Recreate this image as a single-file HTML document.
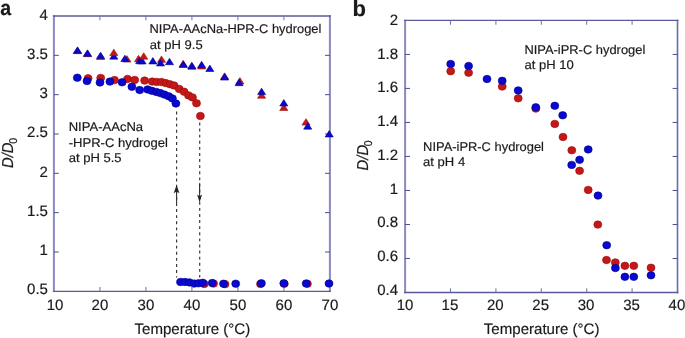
<!DOCTYPE html>
<html><head><meta charset="utf-8"><style>
html,body{margin:0;padding:0;background:#fff;}
svg{display:block;filter:blur(0.3px);font-family:"Liberation Sans",sans-serif;text-rendering:geometricPrecision;}
text{stroke:#1a1a1a;stroke-width:0.18px;}
</style></head><body>
<svg width="685" height="338" viewBox="0 0 685 338">
<rect width="685" height="338" fill="#fff"/>
<path d="M53.90 15.30V292.00" fill="none" stroke="#8a8abf" stroke-width="2.0"/>
<path d="M329.90 15.30V292.00" fill="none" stroke="#8a8abf" stroke-width="2.0"/>
<path d="M52.90 16.00H330.90M52.90 291.30H330.90" fill="none" stroke="#5a5a9a" stroke-width="1.35"/>
<path d="M99.90 291.30v-4.3M99.90 16.00v4.3M145.90 291.30v-4.3M145.90 16.00v4.3M191.90 291.30v-4.3M191.90 16.00v4.3M237.90 291.30v-4.3M237.90 16.00v4.3M283.90 291.30v-4.3M283.90 16.00v4.3" stroke="#7a7aaa" stroke-width="1.1" fill="none"/>
<path d="M53.90 251.97h4.9M329.90 251.97h-4.9M53.90 212.64h4.9M329.90 212.64h-4.9M53.90 173.31h4.9M329.90 173.31h-4.9M53.90 133.99h4.9M329.90 133.99h-4.9M53.90 94.66h4.9M329.90 94.66h-4.9M53.90 55.33h4.9M329.90 55.33h-4.9" stroke="#4c4c8e" stroke-width="1.0" fill="none"/>
<path d="M405.10 19.70V293.20" fill="none" stroke="#8a8abf" stroke-width="2.0"/>
<path d="M677.50 19.70V293.20" fill="none" stroke="#6c6cac" stroke-width="1.6"/>
<path d="M404.10 20.40H678.50M404.10 292.50H678.50" fill="none" stroke="#5a5a9a" stroke-width="1.35"/>
<path d="M450.50 292.50v-4.3M450.50 20.40v4.3M495.90 292.50v-4.3M495.90 20.40v4.3M541.30 292.50v-4.3M541.30 20.40v4.3M586.70 292.50v-4.3M586.70 20.40v4.3M632.10 292.50v-4.3M632.10 20.40v4.3" stroke="#7a7aaa" stroke-width="1.1" fill="none"/>
<path d="M405.10 258.49h4.9M677.50 258.49h-4.9M405.10 224.47h4.9M677.50 224.47h-4.9M405.10 190.46h4.9M677.50 190.46h-4.9M405.10 156.45h4.9M677.50 156.45h-4.9M405.10 122.44h4.9M677.50 122.44h-4.9M405.10 88.42h4.9M677.50 88.42h-4.9M405.10 54.41h4.9M677.50 54.41h-4.9" stroke="#4c4c8e" stroke-width="1.0" fill="none"/>
<path d="M176.6 111.5V277.5M199.7 122.5V277.5" stroke="#3a3a3a" stroke-width="1.2" stroke-dasharray="2.9 3.2" fill="none"/>
<path d="M176.6 192V203M199.6 183.2V196" stroke="#2a2a2a" stroke-width="1.05" fill="none"/>
<path d="M176.6 185L179.5 193.2L176.6 191.6L173.6 193.2Z" fill="#222"/>
<path d="M199.6 202.6L202.1 194.6L199.6 196.2L197.1 194.6Z" fill="#222"/>
<path d="M77.50 47.25L81.55 53.65H73.45Z" fill="#c41818" stroke="#9c0c0c" stroke-width="0.6" stroke-linejoin="round"/>
<path d="M87.50 50.25L91.55 56.65H83.45Z" fill="#c41818" stroke="#9c0c0c" stroke-width="0.6" stroke-linejoin="round"/>
<path d="M100.60 53.15L104.65 59.55H96.55Z" fill="#c41818" stroke="#9c0c0c" stroke-width="0.6" stroke-linejoin="round"/>
<path d="M127.00 55.65L131.05 62.05H122.95Z" fill="#c41818" stroke="#9c0c0c" stroke-width="0.6" stroke-linejoin="round"/>
<path d="M138.50 55.35L142.55 61.75H134.45Z" fill="#c41818" stroke="#9c0c0c" stroke-width="0.6" stroke-linejoin="round"/>
<path d="M161.50 55.95L165.55 62.35H157.45Z" fill="#c41818" stroke="#9c0c0c" stroke-width="0.6" stroke-linejoin="round"/>
<path d="M183.20 60.35L187.25 66.75H179.15Z" fill="#c41818" stroke="#9c0c0c" stroke-width="0.6" stroke-linejoin="round"/>
<path d="M192.00 62.95L196.05 69.35H187.95Z" fill="#c41818" stroke="#9c0c0c" stroke-width="0.6" stroke-linejoin="round"/>
<path d="M201.60 62.55L205.65 68.95H197.55Z" fill="#c41818" stroke="#9c0c0c" stroke-width="0.6" stroke-linejoin="round"/>
<path d="M224.60 72.85L228.65 79.25H220.55Z" fill="#c41818" stroke="#9c0c0c" stroke-width="0.6" stroke-linejoin="round"/>
<path d="M239.90 77.55L243.95 83.95H235.85Z" fill="#c41818" stroke="#9c0c0c" stroke-width="0.6" stroke-linejoin="round"/>
<path d="M261.60 91.85L265.65 98.25H257.55Z" fill="#c41818" stroke="#9c0c0c" stroke-width="0.6" stroke-linejoin="round"/>
<path d="M283.80 104.05L287.85 110.45H279.75Z" fill="#c41818" stroke="#9c0c0c" stroke-width="0.6" stroke-linejoin="round"/>
<path d="M306.00 118.65L310.05 125.05H301.95Z" fill="#c41818" stroke="#9c0c0c" stroke-width="0.6" stroke-linejoin="round"/>
<path d="M77.50 46.85L81.55 53.25H73.45Z" fill="#0808d0" stroke="#000090" stroke-width="0.6" stroke-linejoin="round"/>
<path d="M87.50 49.85L91.55 56.25H83.45Z" fill="#0808d0" stroke="#000090" stroke-width="0.6" stroke-linejoin="round"/>
<path d="M100.60 52.15L104.65 58.55H96.55Z" fill="#0808d0" stroke="#000090" stroke-width="0.6" stroke-linejoin="round"/>
<path d="M113.80 52.75L117.85 59.15H109.75Z" fill="#0808d0" stroke="#000090" stroke-width="0.6" stroke-linejoin="round"/>
<path d="M124.90 55.15L128.95 61.55H120.85Z" fill="#0808d0" stroke="#000090" stroke-width="0.6" stroke-linejoin="round"/>
<path d="M139.70 57.35L143.75 63.75H135.65Z" fill="#0808d0" stroke="#000090" stroke-width="0.6" stroke-linejoin="round"/>
<path d="M142.10 57.55L146.15 63.95H138.05Z" fill="#0808d0" stroke="#000090" stroke-width="0.6" stroke-linejoin="round"/>
<path d="M152.90 57.55L156.95 63.95H148.85Z" fill="#0808d0" stroke="#000090" stroke-width="0.6" stroke-linejoin="round"/>
<path d="M160.50 59.55L164.55 65.95H156.45Z" fill="#0808d0" stroke="#000090" stroke-width="0.6" stroke-linejoin="round"/>
<path d="M169.50 58.25L173.55 64.65H165.45Z" fill="#0808d0" stroke="#000090" stroke-width="0.6" stroke-linejoin="round"/>
<path d="M183.30 61.05L187.35 67.45H179.25Z" fill="#0808d0" stroke="#000090" stroke-width="0.6" stroke-linejoin="round"/>
<path d="M191.80 62.25L195.85 68.65H187.75Z" fill="#0808d0" stroke="#000090" stroke-width="0.6" stroke-linejoin="round"/>
<path d="M201.60 61.35L205.65 67.75H197.55Z" fill="#0808d0" stroke="#000090" stroke-width="0.6" stroke-linejoin="round"/>
<path d="M209.80 65.05L213.85 71.45H205.75Z" fill="#0808d0" stroke="#000090" stroke-width="0.6" stroke-linejoin="round"/>
<path d="M224.60 73.65L228.65 80.05H220.55Z" fill="#0808d0" stroke="#000090" stroke-width="0.6" stroke-linejoin="round"/>
<path d="M239.10 79.25L243.15 85.65H235.05Z" fill="#0808d0" stroke="#000090" stroke-width="0.6" stroke-linejoin="round"/>
<path d="M261.60 88.15L265.65 94.55H257.55Z" fill="#0808d0" stroke="#000090" stroke-width="0.6" stroke-linejoin="round"/>
<path d="M283.80 99.55L287.85 105.95H279.75Z" fill="#0808d0" stroke="#000090" stroke-width="0.6" stroke-linejoin="round"/>
<path d="M307.70 122.75L311.75 129.15H303.65Z" fill="#0808d0" stroke="#000090" stroke-width="0.6" stroke-linejoin="round"/>
<path d="M329.20 130.55L333.25 136.95H325.15Z" fill="#0808d0" stroke="#000090" stroke-width="0.6" stroke-linejoin="round"/>
<path d="M113.80 49.15L117.85 55.55H109.75Z" fill="#c41818" stroke="#9c0c0c" stroke-width="0.6" stroke-linejoin="round"/>
<path d="M143.70 52.75L147.75 59.15H139.65Z" fill="#c41818" stroke="#9c0c0c" stroke-width="0.6" stroke-linejoin="round"/>
<ellipse cx="88.1" cy="78.3" rx="3.99" ry="3.75" fill="#c41818" stroke="#9c0c0c" stroke-width="0.6"/>
<ellipse cx="100.7" cy="77.9" rx="3.99" ry="3.75" fill="#c41818" stroke="#9c0c0c" stroke-width="0.6"/>
<ellipse cx="114.5" cy="80.1" rx="3.99" ry="3.75" fill="#c41818" stroke="#9c0c0c" stroke-width="0.6"/>
<ellipse cx="127.5" cy="79.0" rx="3.99" ry="3.75" fill="#c41818" stroke="#9c0c0c" stroke-width="0.6"/>
<ellipse cx="134.7" cy="79.9" rx="3.99" ry="3.75" fill="#c41818" stroke="#9c0c0c" stroke-width="0.6"/>
<ellipse cx="144.6" cy="80.6" rx="3.99" ry="3.75" fill="#c41818" stroke="#9c0c0c" stroke-width="0.6"/>
<ellipse cx="152.2" cy="81.6" rx="3.99" ry="3.75" fill="#c41818" stroke="#9c0c0c" stroke-width="0.6"/>
<ellipse cx="156.7" cy="81.9" rx="3.99" ry="3.75" fill="#c41818" stroke="#9c0c0c" stroke-width="0.6"/>
<ellipse cx="161.5" cy="82.1" rx="3.99" ry="3.75" fill="#c41818" stroke="#9c0c0c" stroke-width="0.6"/>
<ellipse cx="165.7" cy="83.1" rx="3.99" ry="3.75" fill="#c41818" stroke="#9c0c0c" stroke-width="0.6"/>
<ellipse cx="170" cy="84.3" rx="3.99" ry="3.75" fill="#c41818" stroke="#9c0c0c" stroke-width="0.6"/>
<ellipse cx="174.1" cy="85.5" rx="3.99" ry="3.75" fill="#c41818" stroke="#9c0c0c" stroke-width="0.6"/>
<ellipse cx="179.2" cy="88.9" rx="3.99" ry="3.75" fill="#c41818" stroke="#9c0c0c" stroke-width="0.6"/>
<ellipse cx="184.1" cy="91.7" rx="3.99" ry="3.75" fill="#c41818" stroke="#9c0c0c" stroke-width="0.6"/>
<ellipse cx="188.5" cy="95.4" rx="3.99" ry="3.75" fill="#c41818" stroke="#9c0c0c" stroke-width="0.6"/>
<ellipse cx="192.5" cy="97.4" rx="3.99" ry="3.75" fill="#c41818" stroke="#9c0c0c" stroke-width="0.6"/>
<ellipse cx="196.5" cy="103.3" rx="3.99" ry="3.75" fill="#c41818" stroke="#9c0c0c" stroke-width="0.6"/>
<ellipse cx="200.4" cy="116" rx="3.99" ry="3.75" fill="#c41818" stroke="#9c0c0c" stroke-width="0.6"/>
<ellipse cx="204.2" cy="284" rx="3.99" ry="3.75" fill="#c41818" stroke="#9c0c0c" stroke-width="0.6"/>
<ellipse cx="213.6" cy="283.6" rx="3.99" ry="3.75" fill="#c41818" stroke="#9c0c0c" stroke-width="0.6"/>
<ellipse cx="225" cy="284.2" rx="3.99" ry="3.75" fill="#c41818" stroke="#9c0c0c" stroke-width="0.6"/>
<ellipse cx="260.5" cy="284" rx="3.99" ry="3.75" fill="#c41818" stroke="#9c0c0c" stroke-width="0.6"/>
<ellipse cx="284.3" cy="283.8" rx="3.99" ry="3.75" fill="#c41818" stroke="#9c0c0c" stroke-width="0.6"/>
<ellipse cx="307.4" cy="283.8" rx="3.99" ry="3.75" fill="#c41818" stroke="#9c0c0c" stroke-width="0.6"/>
<ellipse cx="77.3" cy="77.7" rx="3.99" ry="3.75" fill="#0808d0" stroke="#000090" stroke-width="0.6"/>
<ellipse cx="87" cy="81" rx="3.99" ry="3.75" fill="#0808d0" stroke="#000090" stroke-width="0.6"/>
<ellipse cx="100" cy="82.5" rx="3.99" ry="3.75" fill="#0808d0" stroke="#000090" stroke-width="0.6"/>
<ellipse cx="109.9" cy="81.6" rx="3.99" ry="3.75" fill="#0808d0" stroke="#000090" stroke-width="0.6"/>
<ellipse cx="122.1" cy="82.3" rx="3.99" ry="3.75" fill="#0808d0" stroke="#000090" stroke-width="0.6"/>
<ellipse cx="131.9" cy="86.8" rx="3.99" ry="3.75" fill="#0808d0" stroke="#000090" stroke-width="0.6"/>
<ellipse cx="139.7" cy="90.1" rx="3.99" ry="3.75" fill="#0808d0" stroke="#000090" stroke-width="0.6"/>
<ellipse cx="147.6" cy="89.4" rx="3.99" ry="3.75" fill="#0808d0" stroke="#000090" stroke-width="0.6"/>
<ellipse cx="151.8" cy="90.8" rx="3.99" ry="3.75" fill="#0808d0" stroke="#000090" stroke-width="0.6"/>
<ellipse cx="156.3" cy="91.9" rx="3.99" ry="3.75" fill="#0808d0" stroke="#000090" stroke-width="0.6"/>
<ellipse cx="160.2" cy="93.1" rx="3.99" ry="3.75" fill="#0808d0" stroke="#000090" stroke-width="0.6"/>
<ellipse cx="164.4" cy="94.6" rx="3.99" ry="3.75" fill="#0808d0" stroke="#000090" stroke-width="0.6"/>
<ellipse cx="168.7" cy="96.3" rx="3.99" ry="3.75" fill="#0808d0" stroke="#000090" stroke-width="0.6"/>
<ellipse cx="172.4" cy="98.4" rx="3.99" ry="3.75" fill="#0808d0" stroke="#000090" stroke-width="0.6"/>
<ellipse cx="175.9" cy="103.5" rx="3.99" ry="3.75" fill="#0808d0" stroke="#000090" stroke-width="0.6"/>
<ellipse cx="180.5" cy="282" rx="3.99" ry="3.75" fill="#0808d0" stroke="#000090" stroke-width="0.6"/>
<ellipse cx="185" cy="282" rx="3.99" ry="3.75" fill="#0808d0" stroke="#000090" stroke-width="0.6"/>
<ellipse cx="189.5" cy="282.4" rx="3.99" ry="3.75" fill="#0808d0" stroke="#000090" stroke-width="0.6"/>
<ellipse cx="194.3" cy="283.6" rx="3.99" ry="3.75" fill="#0808d0" stroke="#000090" stroke-width="0.6"/>
<ellipse cx="198.5" cy="283.3" rx="3.99" ry="3.75" fill="#0808d0" stroke="#000090" stroke-width="0.6"/>
<ellipse cx="202.8" cy="282.8" rx="3.99" ry="3.75" fill="#0808d0" stroke="#000090" stroke-width="0.6"/>
<ellipse cx="212.2" cy="283" rx="3.99" ry="3.75" fill="#0808d0" stroke="#000090" stroke-width="0.6"/>
<ellipse cx="223.5" cy="283.7" rx="3.99" ry="3.75" fill="#0808d0" stroke="#000090" stroke-width="0.6"/>
<ellipse cx="235.7" cy="283.7" rx="3.99" ry="3.75" fill="#0808d0" stroke="#000090" stroke-width="0.6"/>
<ellipse cx="261.4" cy="283.3" rx="3.99" ry="3.75" fill="#0808d0" stroke="#000090" stroke-width="0.6"/>
<ellipse cx="283.8" cy="283.3" rx="3.99" ry="3.75" fill="#0808d0" stroke="#000090" stroke-width="0.6"/>
<ellipse cx="306.2" cy="283.5" rx="3.99" ry="3.75" fill="#0808d0" stroke="#000090" stroke-width="0.6"/>
<ellipse cx="329" cy="283.5" rx="3.99" ry="3.75" fill="#0808d0" stroke="#000090" stroke-width="0.6"/>
<ellipse cx="450.7" cy="71.2" rx="3.99" ry="3.75" fill="#c41818" stroke="#9c0c0c" stroke-width="0.6"/>
<ellipse cx="468.6" cy="72.7" rx="3.99" ry="3.75" fill="#c41818" stroke="#9c0c0c" stroke-width="0.6"/>
<ellipse cx="502.2" cy="86.5" rx="3.99" ry="3.75" fill="#c41818" stroke="#9c0c0c" stroke-width="0.6"/>
<ellipse cx="518.2" cy="98.3" rx="3.99" ry="3.75" fill="#c41818" stroke="#9c0c0c" stroke-width="0.6"/>
<ellipse cx="535.8" cy="108.6" rx="3.99" ry="3.75" fill="#c41818" stroke="#9c0c0c" stroke-width="0.6"/>
<ellipse cx="554.8" cy="123.9" rx="3.99" ry="3.75" fill="#c41818" stroke="#9c0c0c" stroke-width="0.6"/>
<ellipse cx="563" cy="137" rx="3.99" ry="3.75" fill="#c41818" stroke="#9c0c0c" stroke-width="0.6"/>
<ellipse cx="571.8" cy="150.3" rx="3.99" ry="3.75" fill="#c41818" stroke="#9c0c0c" stroke-width="0.6"/>
<ellipse cx="579.6" cy="170.8" rx="3.99" ry="3.75" fill="#c41818" stroke="#9c0c0c" stroke-width="0.6"/>
<ellipse cx="588.2" cy="189.9" rx="3.99" ry="3.75" fill="#c41818" stroke="#9c0c0c" stroke-width="0.6"/>
<ellipse cx="597.8" cy="224.6" rx="3.99" ry="3.75" fill="#c41818" stroke="#9c0c0c" stroke-width="0.6"/>
<ellipse cx="606.5" cy="260" rx="3.99" ry="3.75" fill="#c41818" stroke="#9c0c0c" stroke-width="0.6"/>
<ellipse cx="615.3" cy="262.4" rx="3.99" ry="3.75" fill="#c41818" stroke="#9c0c0c" stroke-width="0.6"/>
<ellipse cx="624.9" cy="265.8" rx="3.99" ry="3.75" fill="#c41818" stroke="#9c0c0c" stroke-width="0.6"/>
<ellipse cx="633.8" cy="265.8" rx="3.99" ry="3.75" fill="#c41818" stroke="#9c0c0c" stroke-width="0.6"/>
<ellipse cx="651" cy="267.7" rx="3.99" ry="3.75" fill="#c41818" stroke="#9c0c0c" stroke-width="0.6"/>
<ellipse cx="450.7" cy="64" rx="3.99" ry="3.75" fill="#0808d0" stroke="#000090" stroke-width="0.6"/>
<ellipse cx="468.6" cy="66" rx="3.99" ry="3.75" fill="#0808d0" stroke="#000090" stroke-width="0.6"/>
<ellipse cx="487" cy="79" rx="3.99" ry="3.75" fill="#0808d0" stroke="#000090" stroke-width="0.6"/>
<ellipse cx="502.2" cy="80.8" rx="3.99" ry="3.75" fill="#0808d0" stroke="#000090" stroke-width="0.6"/>
<ellipse cx="518.2" cy="90.4" rx="3.99" ry="3.75" fill="#0808d0" stroke="#000090" stroke-width="0.6"/>
<ellipse cx="535.8" cy="107.3" rx="3.99" ry="3.75" fill="#0808d0" stroke="#000090" stroke-width="0.6"/>
<ellipse cx="554.8" cy="105.8" rx="3.99" ry="3.75" fill="#0808d0" stroke="#000090" stroke-width="0.6"/>
<ellipse cx="562.7" cy="115.3" rx="3.99" ry="3.75" fill="#0808d0" stroke="#000090" stroke-width="0.6"/>
<ellipse cx="588.2" cy="149.4" rx="3.99" ry="3.75" fill="#0808d0" stroke="#000090" stroke-width="0.6"/>
<ellipse cx="579.6" cy="159.8" rx="3.99" ry="3.75" fill="#0808d0" stroke="#000090" stroke-width="0.6"/>
<ellipse cx="571.7" cy="164.9" rx="3.99" ry="3.75" fill="#0808d0" stroke="#000090" stroke-width="0.6"/>
<ellipse cx="598" cy="195.6" rx="3.99" ry="3.75" fill="#0808d0" stroke="#000090" stroke-width="0.6"/>
<ellipse cx="606.7" cy="245.2" rx="3.99" ry="3.75" fill="#0808d0" stroke="#000090" stroke-width="0.6"/>
<ellipse cx="615.4" cy="268" rx="3.99" ry="3.75" fill="#0808d0" stroke="#000090" stroke-width="0.6"/>
<ellipse cx="624.9" cy="276.8" rx="3.99" ry="3.75" fill="#0808d0" stroke="#000090" stroke-width="0.6"/>
<ellipse cx="633.8" cy="276.8" rx="3.99" ry="3.75" fill="#0808d0" stroke="#000090" stroke-width="0.6"/>
<ellipse cx="651" cy="275.3" rx="3.99" ry="3.75" fill="#0808d0" stroke="#000090" stroke-width="0.6"/>
<text transform="translate(0.30,15.30) scale(0.93,1)" text-anchor="start" font-size="21" font-weight="bold" font-style="normal" fill="#1a1a1a">a</text>
<text transform="translate(352.60,15.50) scale(1.0,1)" text-anchor="start" font-size="22" font-weight="bold" font-style="normal" fill="#1a1a1a">b</text>
<text transform="translate(47.90,20.10) scale(1.0,1)" text-anchor="end" font-size="15" font-weight="normal" font-style="normal" fill="#1a1a1a">4</text>
<text transform="translate(47.90,59.20) scale(1.0,1)" text-anchor="end" font-size="15" font-weight="normal" font-style="normal" fill="#1a1a1a">3.5</text>
<text transform="translate(47.90,98.30) scale(1.0,1)" text-anchor="end" font-size="15" font-weight="normal" font-style="normal" fill="#1a1a1a">3</text>
<text transform="translate(47.90,137.40) scale(1.0,1)" text-anchor="end" font-size="15" font-weight="normal" font-style="normal" fill="#1a1a1a">2.5</text>
<text transform="translate(47.90,176.50) scale(1.0,1)" text-anchor="end" font-size="15" font-weight="normal" font-style="normal" fill="#1a1a1a">2</text>
<text transform="translate(47.90,215.60) scale(1.0,1)" text-anchor="end" font-size="15" font-weight="normal" font-style="normal" fill="#1a1a1a">1.5</text>
<text transform="translate(47.90,254.70) scale(1.0,1)" text-anchor="end" font-size="15" font-weight="normal" font-style="normal" fill="#1a1a1a">1</text>
<text transform="translate(47.90,293.80) scale(1.0,1)" text-anchor="end" font-size="15" font-weight="normal" font-style="normal" fill="#1a1a1a">0.5</text>
<text transform="translate(55.10,309.90) scale(1.0,1)" text-anchor="middle" font-size="15" font-weight="normal" font-style="normal" fill="#1a1a1a">10</text>
<text transform="translate(99.90,309.90) scale(1.0,1)" text-anchor="middle" font-size="15" font-weight="normal" font-style="normal" fill="#1a1a1a">20</text>
<text transform="translate(145.90,309.90) scale(1.0,1)" text-anchor="middle" font-size="15" font-weight="normal" font-style="normal" fill="#1a1a1a">30</text>
<text transform="translate(191.90,309.90) scale(1.0,1)" text-anchor="middle" font-size="15" font-weight="normal" font-style="normal" fill="#1a1a1a">40</text>
<text transform="translate(237.90,309.90) scale(1.0,1)" text-anchor="middle" font-size="15" font-weight="normal" font-style="normal" fill="#1a1a1a">50</text>
<text transform="translate(283.90,309.90) scale(1.0,1)" text-anchor="middle" font-size="15" font-weight="normal" font-style="normal" fill="#1a1a1a">60</text>
<text transform="translate(329.90,309.90) scale(1.0,1)" text-anchor="middle" font-size="15" font-weight="normal" font-style="normal" fill="#1a1a1a">70</text>
<text transform="translate(398.00,25.00) scale(1.0,1)" text-anchor="end" font-size="15" font-weight="normal" font-style="normal" fill="#1a1a1a">2</text>
<text transform="translate(398.00,58.73) scale(1.0,1)" text-anchor="end" font-size="15" font-weight="normal" font-style="normal" fill="#1a1a1a">1.8</text>
<text transform="translate(398.00,92.46) scale(1.0,1)" text-anchor="end" font-size="15" font-weight="normal" font-style="normal" fill="#1a1a1a">1.6</text>
<text transform="translate(398.00,126.19) scale(1.0,1)" text-anchor="end" font-size="15" font-weight="normal" font-style="normal" fill="#1a1a1a">1.4</text>
<text transform="translate(398.00,159.92) scale(1.0,1)" text-anchor="end" font-size="15" font-weight="normal" font-style="normal" fill="#1a1a1a">1.2</text>
<text transform="translate(398.00,193.65) scale(1.0,1)" text-anchor="end" font-size="15" font-weight="normal" font-style="normal" fill="#1a1a1a">1</text>
<text transform="translate(398.00,227.38) scale(1.0,1)" text-anchor="end" font-size="15" font-weight="normal" font-style="normal" fill="#1a1a1a">0.8</text>
<text transform="translate(398.00,261.11) scale(1.0,1)" text-anchor="end" font-size="15" font-weight="normal" font-style="normal" fill="#1a1a1a">0.6</text>
<text transform="translate(398.00,294.84) scale(1.0,1)" text-anchor="end" font-size="15" font-weight="normal" font-style="normal" fill="#1a1a1a">0.4</text>
<text transform="translate(405.10,309.90) scale(1.0,1)" text-anchor="middle" font-size="15" font-weight="normal" font-style="normal" fill="#1a1a1a">10</text>
<text transform="translate(449.90,309.90) scale(1.0,1)" text-anchor="middle" font-size="15" font-weight="normal" font-style="normal" fill="#1a1a1a">15</text>
<text transform="translate(495.30,309.90) scale(1.0,1)" text-anchor="middle" font-size="15" font-weight="normal" font-style="normal" fill="#1a1a1a">20</text>
<text transform="translate(540.70,309.90) scale(1.0,1)" text-anchor="middle" font-size="15" font-weight="normal" font-style="normal" fill="#1a1a1a">25</text>
<text transform="translate(586.10,309.90) scale(1.0,1)" text-anchor="middle" font-size="15" font-weight="normal" font-style="normal" fill="#1a1a1a">30</text>
<text transform="translate(631.50,309.90) scale(1.0,1)" text-anchor="middle" font-size="15" font-weight="normal" font-style="normal" fill="#1a1a1a">35</text>
<text transform="translate(676.90,309.90) scale(1.0,1)" text-anchor="middle" font-size="15" font-weight="normal" font-style="normal" fill="#1a1a1a">40</text>
<text transform="translate(134.50,333.60) scale(0.992,1)" text-anchor="start" font-size="15.2" font-weight="normal" font-style="normal" fill="#1a1a1a">Temperature (°C)</text>
<text transform="translate(483.80,333.90) scale(0.992,1)" text-anchor="start" font-size="15.2" font-weight="normal" font-style="normal" fill="#1a1a1a">Temperature (°C)</text>
<text transform="translate(13.00,168.00) scale(1.07,1) rotate(-90)" font-size="14.8" font-style="italic" fill="#1a1a1a">D/D<tspan font-size="10.5" font-style="normal" dx="-1.3" dy="3.9">0</tspan></text>
<text transform="translate(367.90,170.40) scale(1.07,1) rotate(-90)" font-size="14.8" font-style="italic" fill="#1a1a1a">D/D<tspan font-size="10.5" font-style="normal" dx="-1.3" dy="3.9">0</tspan></text>
<text transform="translate(149.50,33.30) scale(1.025,1)" text-anchor="start" font-size="12.6" font-weight="normal" font-style="normal" fill="#1a1a1a">NIPA-AAcNa-HPR-C hydrogel</text>
<text transform="translate(149.80,48.70) scale(1.035,1)" text-anchor="start" font-size="12.6" font-weight="normal" font-style="normal" fill="#1a1a1a">at pH 9.5</text>
<text transform="translate(68.70,131.40) scale(1.035,1)" text-anchor="start" font-size="12.6" font-weight="normal" font-style="normal" fill="#1a1a1a">NIPA-AAcNa</text>
<text transform="translate(68.70,146.60) scale(1.035,1)" text-anchor="start" font-size="12.6" font-weight="normal" font-style="normal" fill="#1a1a1a">-HPR-C hydrogel</text>
<text transform="translate(68.70,161.90) scale(1.035,1)" text-anchor="start" font-size="12.6" font-weight="normal" font-style="normal" fill="#1a1a1a">at pH 5.5</text>
<text transform="translate(524.40,53.50) scale(1.024,1)" text-anchor="start" font-size="12.6" font-weight="normal" font-style="normal" fill="#1a1a1a">NIPA-iPR-C hydrogel</text>
<text transform="translate(524.40,69.00) scale(1.035,1)" text-anchor="start" font-size="12.6" font-weight="normal" font-style="normal" fill="#1a1a1a">at pH 10</text>
<text transform="translate(423.10,150.80) scale(1.024,1)" text-anchor="start" font-size="12.6" font-weight="normal" font-style="normal" fill="#1a1a1a">NIPA-iPR-C hydrogel</text>
<text transform="translate(423.10,166.10) scale(1.035,1)" text-anchor="start" font-size="12.6" font-weight="normal" font-style="normal" fill="#1a1a1a">at pH 4</text>
</svg>
</body></html>
